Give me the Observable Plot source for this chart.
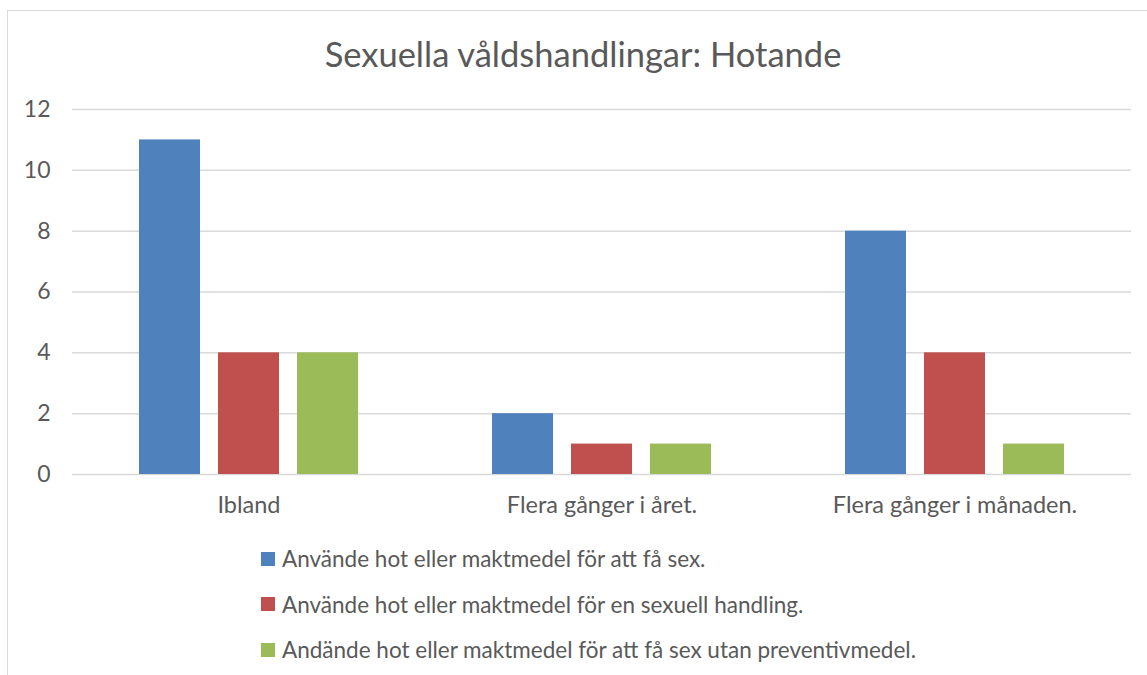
<!DOCTYPE html>
<html>
<head>
<meta charset="utf-8">
<script src="https://cdn.jsdelivr.net/npm/d3@7"></script>
<script src="https://cdn.jsdelivr.net/npm/@observablehq/plot@0.6"></script>
<style>
  html, body { margin: 0; padding: 0; background: #fff; overflow: hidden; }
  body { width: 1147px; height: 675px; position: relative; font-family: Lato, sans-serif; color: #595959; }
  #frame { position: absolute; left: 7px; top: 10px; width: 1160px; height: 700px; border: 1.5px solid #d9d9d9; box-sizing: border-box; }
  #title { position: absolute; left: 0; width: 1166px; top: 31px; text-align: center; font-size: 34.5px; line-height: 46px; white-space: nowrap; }
  #chart { position: absolute; left: 0; top: 0; }
  #legend { position: absolute; left: 261px; top: 536px; font-size: 22.5px; }
  .item { display: flex; align-items: center; height: 45.5px; white-space: nowrap; }
  .sw { width: 14px; height: 14px; margin-right: 7px; flex: none; }
</style>
</head>
<body>
<div id="frame"></div>
<div id="title">Sexuella våldshandlingar: Hotande</div>
<div id="chart"></div>
<div id="legend"></div>
<script>
const categories = ["Ibland", "Flera gånger i året.", "Flera gånger i månaden."];
const series = [
  "Använde hot eller maktmedel för att få sex.",
  "Använde hot eller maktmedel för en sexuell handling.",
  "Andände hot eller maktmedel för att få sex utan preventivmedel."
];
const colors = ["#4f81bd", "#c0504d", "#9bbb59"];
const valuesSex = [11, 2, 8];
const valuesHandling = [4, 1, 4];
const valuesPreventiv = [4, 1, 1];
const yTicks = [0, 2, 4, 6, 8, 10, 12];

const seriesValues = [valuesSex, valuesHandling, valuesPreventiv];
const data = [];
categories.forEach((c, i) => {
  series.forEach((s, j) => data.push({cat: c, series: s, value: seriesValues[j][i]}));
});

const chart = Plot.plot({
  width: 1147,
  height: 524,
  marginLeft: 72,
  marginRight: 16,
  marginTop: 109,
  marginBottom: 50,
  style: {fontFamily: "Lato, sans-serif", color: "#595959", background: "transparent"},
  fx: {domain: categories, padding: 0, axis: null},
  x: {domain: series, paddingInner: 0.228, paddingOuter: 0.848, axis: null},
  y: {domain: [0, 12], axis: null},
  color: {domain: series, range: colors},
  marks: [
    Plot.ruleY(yTicks, {stroke: "#d9d9d9", strokeWidth: 1.5}),
    Plot.barY(data, {fx: "cat", x: "series", y: "value", fill: "series"}),
    Plot.axisY(yTicks, {tickSize: 0, tickPadding: 22, label: null, fontSize: 23}),
    Plot.axisFx({anchor: "bottom", tickSize: 0, tickPadding: 22, label: null, fontSize: 23.5})
  ]
});
document.getElementById("chart").appendChild(chart);

const legend = document.getElementById("legend");
series.forEach((s, i) => {
  const item = document.createElement("div");
  item.className = "item";
  const sw = document.createElement("div");
  sw.className = "sw";
  sw.style.background = colors[i];
  const t = document.createElement("span");
  t.textContent = s;
  item.appendChild(sw);
  item.appendChild(t);
  legend.appendChild(item);
});
</script>
</body>
</html>
